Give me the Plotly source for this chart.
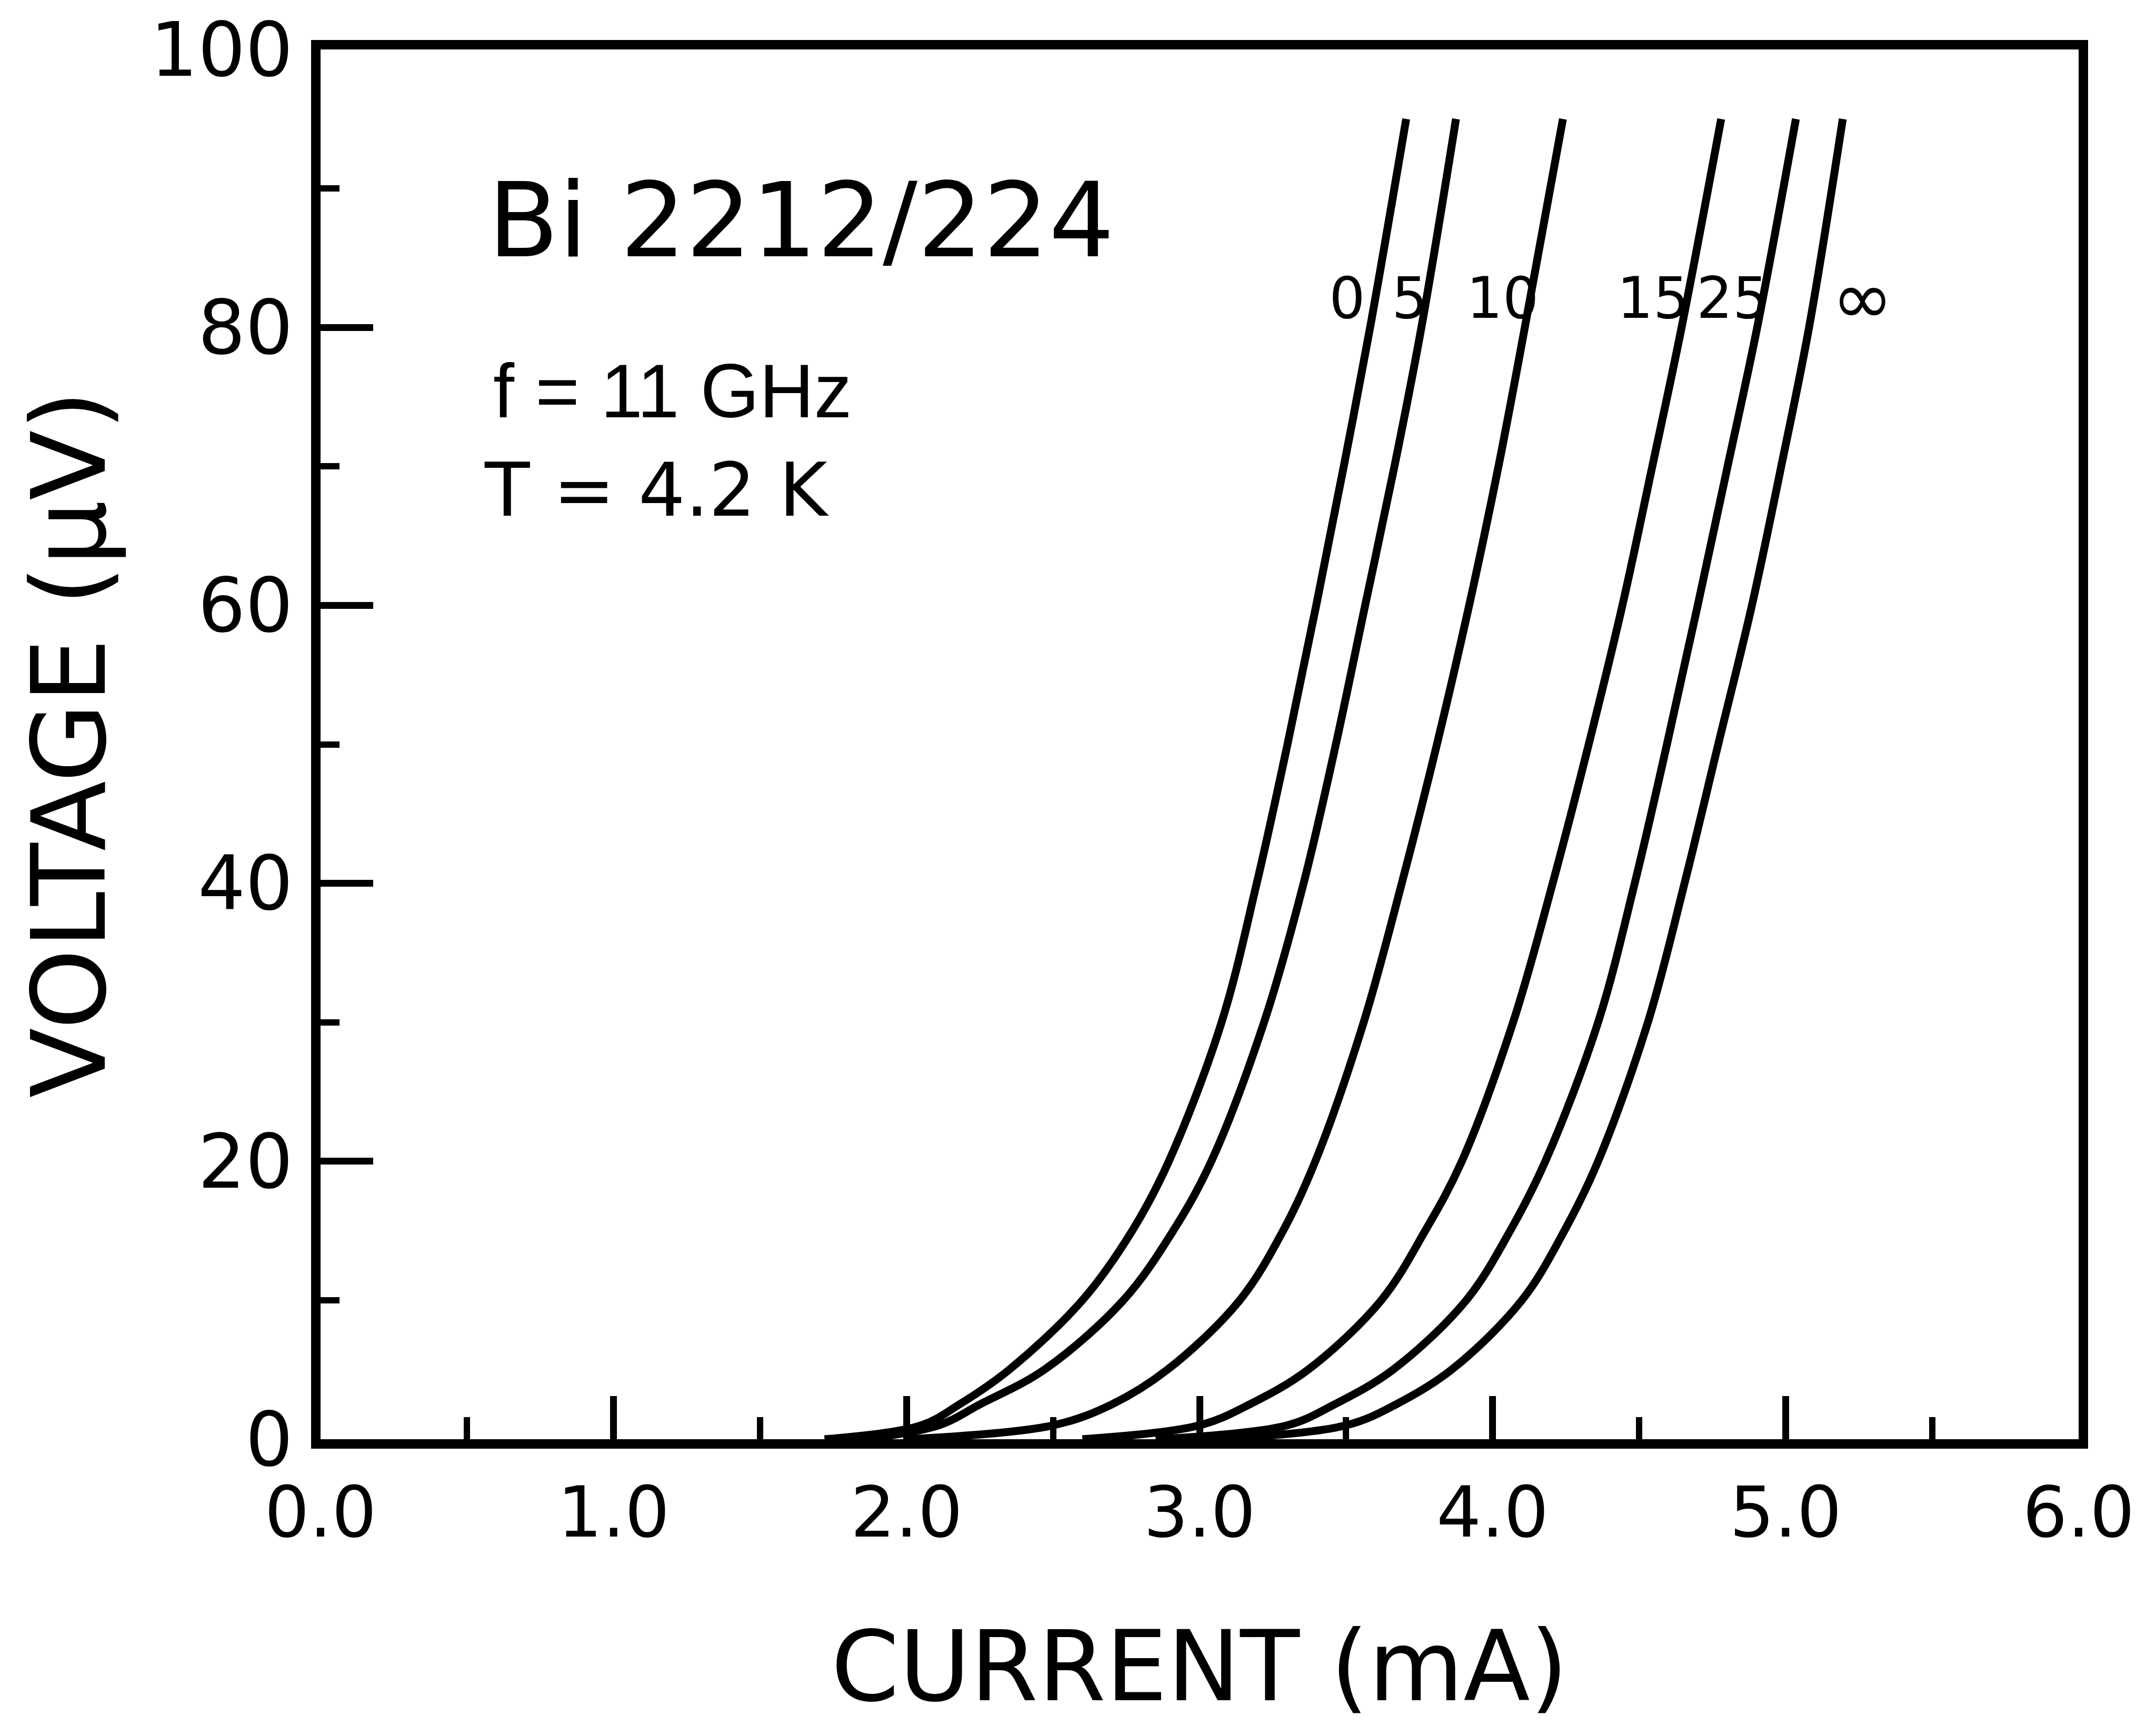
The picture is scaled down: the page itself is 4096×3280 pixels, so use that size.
import plotly.graph_objects as go

# ---- data ----
V_GRID = [0, 1, 2.5, 5, 10, 15, 20, 30, 40, 50, 60, 70, 80, 95]

I_0 = [1.72, 2.05, 2.18, 2.35, 2.60, 2.77, 2.895, 3.075, 3.195, 3.30, 3.398, 3.492, 3.582, 3.705]
I_5 = [1.85, 2.11, 2.25, 2.47, 2.74, 2.91, 3.04, 3.22, 3.355, 3.465, 3.565, 3.665, 3.757, 3.875]
I_10 = [2.00, 2.50, 2.70, 2.89, 3.137, 3.285, 3.395, 3.56, 3.69, 3.81, 3.92, 4.02, 4.11, 4.24]
I_15 = [2.60, 3.00, 3.17, 3.37, 3.62, 3.77, 3.895, 4.07, 4.205, 4.328, 4.443, 4.545, 4.645, 4.78]
I_25 = [2.85, 3.30, 3.46, 3.66, 3.91, 4.06, 4.18, 4.36, 4.485, 4.595, 4.70, 4.802, 4.903, 5.035]
I_INF = [3.05, 3.50, 3.67, 3.86, 4.10, 4.245, 4.36, 4.53, 4.655, 4.77, 4.885, 4.985, 5.08, 5.195]

CURVE_NAMES = ["0", "5", "10", "15", "25", "\u221e"]
CURVES = [I_0, I_5, I_10, I_15, I_25, I_INF]
LABEL_X = [3.504, 3.717, 4.033, 4.547, 4.819, 5.263]
LABEL_Y = 82.1

X_TICKS = [0, 1, 2, 3, 4, 5, 6]
X_TICK_LABELS = ["0.0", "1.0", "2.0", "3.0", "4.0", "5.0", "6.0"]
Y_TICKS = [0, 20, 40, 60, 80, 100]
Y_TICK_LABELS = ["0", "20", "40", "60", "80", "100"]

X_TITLE = "CURRENT (mA)"
Y_TITLE = "VOLTAGE (\u03bcV)"
SAMPLE = "Bi 2212/224"
FREQ = "f = 11 GHz"
TEMP = "T = 4.2 K"

# ---- figure ----
W, H = 4096, 3280
ML, MR, MT, MB = 609, 147, 77, 545

fig = go.Figure()
for name, xs in zip(CURVE_NAMES, CURVES):
    fig.add_trace(go.Scatter(
        x=xs, y=V_GRID, mode="lines", name=name,
        line=dict(color="black", width=15, shape="spline", smoothing=1.0),
        showlegend=False, hoverinfo="skip"))

fig.update_xaxes(
    range=[0, 6], tickvals=X_TICKS, ticktext=X_TICK_LABELS,
    showline=True, linewidth=18, linecolor="black", mirror=True,
    ticks="inside", ticklen=82, tickwidth=13, tickcolor="black",
    minor=dict(dtick=0.5, tick0=0, ticks="inside", ticklen=42, tickwidth=12,
               tickcolor="black", showgrid=False),
    showgrid=False, zeroline=False, ticklabeloverflow="allow",
    tickfont=dict(family="DejaVu Sans, sans-serif", size=134, color="black"),
    ticklabelstandoff=6)
fig.update_yaxes(
    range=[0, 100], tickvals=Y_TICKS, ticktext=Y_TICK_LABELS,
    showline=True, linewidth=18, linecolor="black", mirror=True,
    ticks="inside", ticklen=100, tickwidth=13, tickcolor="black",
    minor=dict(dtick=10, tick0=0, ticks="inside", ticklen=36, tickwidth=12,
               tickcolor="black", showgrid=False),
    showgrid=False, zeroline=False, ticklabeloverflow="allow",
    tickfont=dict(family="DejaVu Sans, sans-serif", size=142, color="black"),
    ticklabelstandoff=6)

annots = []
annots.append(dict(text=X_TITLE, xref="paper", yref="paper", x=0.5, y=0,
                   yshift=-432, xanchor="center", yanchor="middle",
                   showarrow=False,
                   font=dict(family="DejaVu Sans, sans-serif", size=185, color="black")))
annots.append(dict(text=Y_TITLE, xref="paper", yref="paper", x=0, y=0.5,
                   xshift=-478, xanchor="center", yanchor="middle",
                   textangle=-90, showarrow=False,
                   font=dict(family="DejaVu Sans, sans-serif", size=195, color="black")))
annots.append(dict(text=SAMPLE, x=0.568, y=87.7, xref="x", yref="y",
                   xanchor="left", yanchor="middle", showarrow=False,
                   font=dict(family="DejaVu Sans, sans-serif", size=196, color="black")))
annots.append(dict(text=FREQ, x=0.585, y=75.4, xref="x", yref="y",
                   xanchor="left", yanchor="middle", showarrow=False,
                   font=dict(family="Liberation Sans, Arial, sans-serif", size=144, color="black")))
annots.append(dict(text=TEMP, x=0.555, y=68.3, xref="x", yref="y",
                   xanchor="left", yanchor="middle", showarrow=False,
                   font=dict(family="DejaVu Sans, sans-serif", size=140, color="black")))
for name, lx in zip(CURVE_NAMES, LABEL_X):
    sz = 140 if name == "\u221e" else 108
    annots.append(dict(text=name, x=lx, y=LABEL_Y, xref="x", yref="y",
                       xanchor="center", yanchor="middle", showarrow=False,
                       font=dict(family="DejaVu Sans, sans-serif", size=sz, color="black")))

fig.update_layout(
    width=W, height=H, margin=dict(l=ML, r=MR, t=MT, b=MB, pad=0),
    paper_bgcolor="white", plot_bgcolor="white",
    annotations=annots, showlegend=False)

fig.write_html("out.html")
